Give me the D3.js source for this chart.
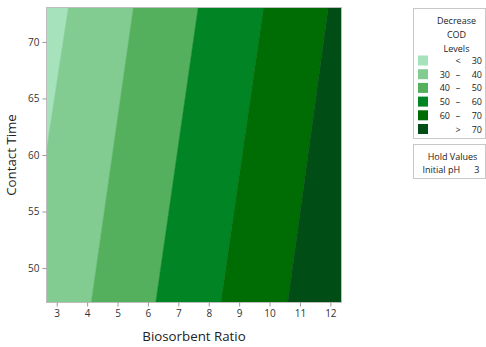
<!DOCTYPE html>
<html>
<head>
<meta charset="utf-8">
<script src="https://cdn.jsdelivr.net/npm/d3@7"></script>
<style>
  body { margin: 0; background: #fff; }
  svg text { font-family: "Open Sans", "Noto Sans", sans-serif; fill: #222; }
</style>
</head>
<body>
<div id="chart"></div>
<script>
// contour levels and where each boundary line meets the top / bottom of the plot
var levels = [30, 40, 50, 60, 70];
var ratioAtTop = [3.38, 5.52, 7.65, 9.80, 11.93];    // Contact Time = 73
var ratioAtBottom = [1.90, 4.14, 6.26, 8.40, 10.60]; // Contact Time = 47
var timeRange = [47, 73];
var ratioRange = [2.68, 12.35];

var bandLabels = [["", "<", "30"], ["30", "\u2013", "40"], ["40", "\u2013", "50"],
                  ["50", "\u2013", "60"], ["60", "\u2013", "70"], ["", ">", "70"]];
var bandColors = ["#a6e2bc", "#82cc92", "#55b05e", "#008424", "#006c04", "#004d15"];
var xTicks = [3, 4, 5, 6, 7, 8, 9, 10, 11, 12];
var yTicks = [50, 55, 60, 65, 70];
var holdName = "Initial pH", holdValue = "3";

var width = 486, height = 347;
var margin = {top: 8, right: 145, bottom: 45, left: 47};
var w = width - margin.left - margin.right,
    h = height - margin.top - margin.bottom;

var svg = d3.select("#chart").append("svg")
    .attr("width", width)
    .attr("height", height);

var x = d3.scaleLinear().domain(ratioRange).range([0, w]);
var y = d3.scaleLinear().domain(timeRange).range([h, 0]);

var g = svg.append("g")
    .attr("transform", "translate(" + margin.left + "," + margin.top + ")");

g.append("clipPath").attr("id", "plotClip")
  .append("rect").attr("width", w).attr("height", h);

// bands between consecutive boundary lines
var far = 100;
var bands = bandColors.map(function (c, i) {
  var lowTop = i === 0 ? -far : ratioAtTop[i - 1],
      lowBot = i === 0 ? -far : ratioAtBottom[i - 1],
      highTop = i === levels.length ? far : ratioAtTop[i],
      highBot = i === levels.length ? far : ratioAtBottom[i];
  return {color: c, pts: [[lowTop, timeRange[1]], [highTop, timeRange[1]],
                          [highBot, timeRange[0]], [lowBot, timeRange[0]]]};
});

g.append("g").attr("clip-path", "url(#plotClip)")
  .selectAll("path")
  .data(bands)
  .enter().append("path")
    .attr("fill", function (d) { return d.color; })
    .attr("stroke", function (d) { return d.color; })
    .attr("stroke-width", 0.5)
    .attr("d", function (d) {
      return "M" + d.pts.map(function (p) { return x(p[0]) + "," + y(p[1]); }).join("L") + "Z";
    });

g.append("rect")
    .attr("x", -0.5).attr("y", -0.5)
    .attr("width", w + 1).attr("height", h + 1)
    .attr("fill", "none").attr("stroke", "#bdbdbd");

// axes
var xAxis = g.append("g")
    .attr("transform", "translate(0," + (h + 0.5) + ")")
    .call(d3.axisBottom(x).tickValues(xTicks).tickSize(4).tickPadding(3));
var yAxis = g.append("g")
    .attr("transform", "translate(-0.5,0)")
    .call(d3.axisLeft(y).tickValues(yTicks).tickSize(4).tickPadding(3));
[xAxis, yAxis].forEach(function (a) {
  a.select(".domain").remove();
  a.selectAll("line").attr("stroke", "#999");
  a.selectAll("text").style("font-size", "10px").style("fill", "#333")
    .style("font-family", "'Open Sans', sans-serif");
});

g.append("text")
    .attr("x", w / 2).attr("y", h + 39)
    .attr("text-anchor", "middle")
    .style("font-size", "13.3px")
    .text("Biosorbent Ratio");

g.append("text")
    .attr("transform", "translate(" + (-31) + "," + (h / 2) + ") rotate(-90)")
    .attr("text-anchor", "middle")
    .style("font-size", "13.3px")
    .text("Contact Time");

// legend
var lg = svg.append("g").attr("transform", "translate(413.5,8.5)");
lg.append("rect").attr("width", 72).attr("height", 130)
    .attr("fill", "#fff").attr("stroke", "#c8c8c8");
["Decrease", "COD", "Levels"].forEach(function (t, i) {
  lg.append("text").attr("x", 43).attr("y", 15 + i * 14)
    .attr("text-anchor", "middle").style("font-size", "9px").text(t);
});
var items = lg.selectAll(".item")
    .data(bandColors)
  .enter().append("g")
    .attr("class", "item")
    .attr("transform", function (d, i) { return "translate(4.5," + (47 + i * 13.7) + ")"; });
items.append("rect").attr("width", 10).attr("height", 10)
    .attr("fill", function (d) { return d; });
items.append("text").attr("x", 32).attr("y", 8.5).attr("text-anchor", "end")
    .style("font-size", "9px").text(function (d, i) { return bandLabels[i][0]; });
items.append("text").attr("x", 40).attr("y", 8.5).attr("text-anchor", "middle")
    .style("font-size", "9px").text(function (d, i) { return bandLabels[i][1]; });
items.append("text").attr("x", 64).attr("y", 8.5).attr("text-anchor", "end")
    .style("font-size", "9px").text(function (d, i) { return bandLabels[i][2]; });

var hg = svg.append("g").attr("transform", "translate(413.5,144.5)");
hg.append("rect").attr("width", 72).attr("height", 34)
    .attr("fill", "#fff").attr("stroke", "#c8c8c8");
hg.append("text").attr("x", 39).attr("y", 15).attr("text-anchor", "middle")
    .style("font-size", "9px").text("Hold Values");
hg.append("text").attr("x", 9).attr("y", 28).style("font-size", "9px").text(holdName);
hg.append("text").attr("x", 66).attr("y", 28).attr("text-anchor", "end")
    .style("font-size", "9px").text(holdValue);
</script>
</body>
</html>
